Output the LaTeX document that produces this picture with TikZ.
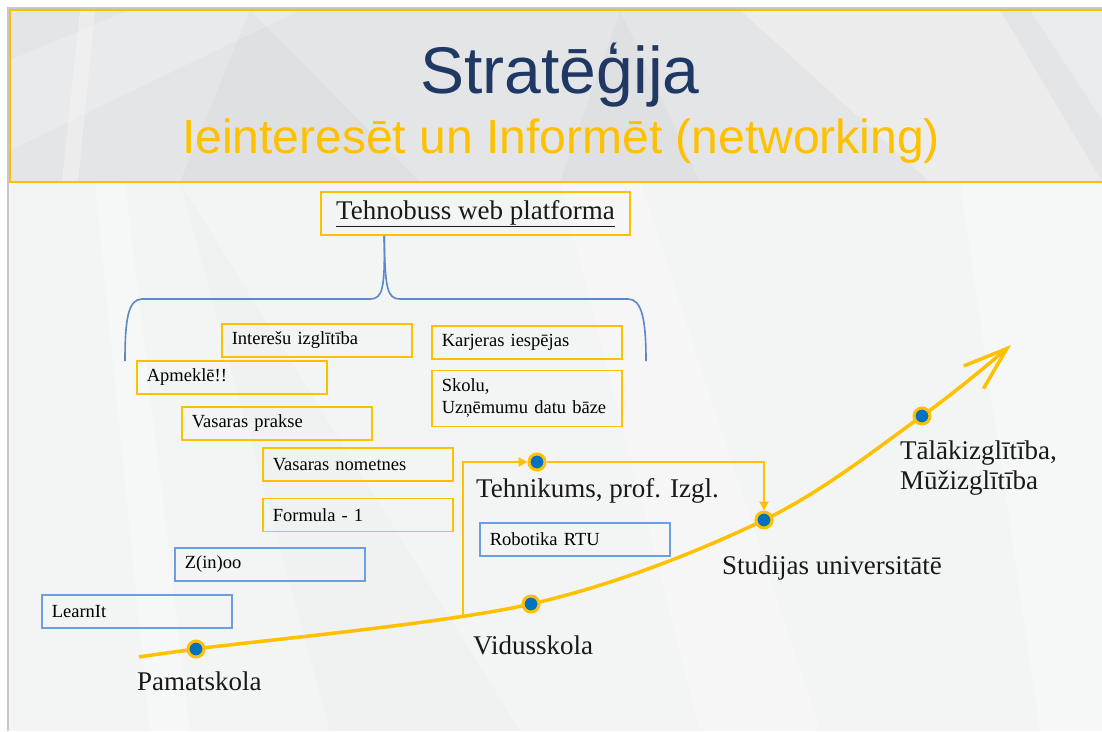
\documentclass[tikz,border=0pt]{standalone}
\usepackage{fontspec}
\setmainfont{Liberation Serif}
\setsansfont{Liberation Sans}
\usetikzlibrary{arrows.meta,positioning}

\definecolor{gold}{HTML}{FFC000}
\definecolor{navy}{HTML}{1F3864}
\definecolor{dotblue}{HTML}{0070C0}
\definecolor{boxblue}{HTML}{6C9FE0}
\definecolor{braceblue}{HTML}{5B88C8}
\definecolor{slide}{HTML}{F3F4F4}
\definecolor{band}{HTML}{E4E5E6}

\tikzset{
  goldbox/.style={draw=gold, line width=1.6pt, rectangle, anchor=north west,
    minimum height=33pt, text width=170pt, inner xsep=10pt, align=left,
    font=\fontsize{18.5}{22}\selectfont},
  bluebox/.style={goldbox, draw=boxblue},
  stopdot/.style={circle, draw=gold, line width=3pt, fill=dotblue,
    minimum size=16pt, inner sep=0pt},
  stage/.style={anchor=base west, inner sep=0pt, align=left, text=black!90,
    font=\fontsize{27}{30}\selectfont},
  track/.style={draw=gold, line width=3.5pt},
  branch/.style={draw=gold, line width=2.2pt},
}

\begin{document}
\begin{tikzpicture}[x=1pt,y=-1pt]
\useasboundingbox (0,0) rectangle (1102,731);

% slide, header band and faint facets
\fill[white] (0,0) rectangle (1102,731);
\fill[slide] (8,8) rectangle (1102,731);
\fill[white, opacity=0.3] (95,182) -- (150,731) -- (190,731) -- (125,182) -- cycle;
\fill[white, opacity=0.25] (560,182) -- (700,731) -- (820,731) -- (640,182) -- cycle;
\fill[black, opacity=0.01] (180,182) -- (330,731) -- (520,731) -- cycle;
\fill[white, opacity=0.3] (960,182) -- (1102,182) -- (1102,731) -- (1040,731) -- cycle;
\draw[black!22, line width=1.2pt] (8,731) -- (8,8) -- (1102,8);
\fill[band] (10,10) rectangle (1102,182);
\fill[white, opacity=0.3] (80,10) -- (95,10) -- (78,182) -- (62,182) -- cycle;
\fill[white, opacity=0.2] (10,60) -- (130,10) -- (300,10) -- (10,150) -- cycle;
\fill[black, opacity=0.02] (250,10) -- (420,182) -- (180,182) -- cycle;
\fill[white, opacity=0.3] (740,10) -- (1000,10) -- (1102,182) -- (930,182) -- cycle;
\fill[white, opacity=0.25] (1030,10) -- (1102,10) -- (1102,120) -- cycle;
\fill[black, opacity=0.02] (620,10) -- (700,182) -- (560,182) -- cycle;
\draw[gold, line width=2pt] (1103,10) -- (10,10) -- (10,182) -- (1103,182);

% titles
\node (title) at (560,93) [anchor=base, inner sep=0pt, text=navy,
  font=\sffamily\fontsize{66}{70}\selectfont] {Stratēģija};
\node (subtitle) at (561,153) [anchor=base, inner sep=0pt, text=gold,
  font=\sffamily\fontsize{48}{52}\selectfont] {Ieinteresēt un Informēt (networking)};

% platform and its brace
\node (Web) at (475.5,213.5) [draw=gold, line width=1.6pt, minimum width=309pt,
  minimum height=43pt, font=\fontsize{27}{30}\selectfont, text=black!90]
  {\underline{Tehnobuss web platforma}};
\coordinate (bracetop) at ([xshift=64pt]Web.south west);
\draw[braceblue, line width=1.6pt] (bracetop) .. controls (385,288) and (383,299) .. (370,299)
  -- (142,299) .. controls (128,299) and (125,320) .. (125,361);
\draw[braceblue, line width=1.6pt] (bracetop) .. controls (385,288) and (387,299) .. (400,299)
  -- (628,299) .. controls (642,299) and (646,320) .. (646,361);

% activities
\node (Interesu) [goldbox] at (221,323) {Interešu izglītība};
\node (Apmekle) [goldbox] at (136,360) {Apmeklē!!};
\node (Prakse) [goldbox] at (181,406) {Vasaras prakse};
\node (Nometnes) [goldbox] at (262,447) {Vasaras nometnes};
\node (Formula) [goldbox, below=16pt of Nometnes] {Formula - 1};
\node (Karjera) [goldbox] at (431,325) {Karjeras iespējas};
\node (Datubaze) [goldbox, below=10pt of Karjera, minimum height=56pt]
  {Skolu,\\Uzņēmumu datu bāze};
\node (Zinoo) [bluebox] at (174,547) {Z(in)oo};
\node (LearnIt) [bluebox] at (41,594) {LearnIt};
\node (Robotika) [bluebox] at (479,522) {Robotika RTU};

% education path
\coordinate (start) at (139,657);
\coordinate (pamatskola) at (196,649);
\coordinate (vidusskola) at (531,604);
\coordinate (universitate) at (764,520);
\coordinate (muzizglitiba) at (922,416);
\coordinate (tip) at (1011,345);
\coordinate (fork) at (463,616);
\draw[track, -{Straight Barb[length=44pt,width=30pt]}]
  plot[smooth, tension=0.55] coordinates {(start) (pamatskola) (vidusskola)
  (universitate) (muzizglitiba) (tip)};

\node (Pamat) [stopdot] at (pamatskola) {};
\node (Vidus) [stopdot] at (vidusskola) {};
\node (Tehn) [stopdot] at (537,462) {};
\node (Studij) [stopdot] at (universitate) {};
\node (Talak) [stopdot] at (muzizglitiba) {};

\draw[branch, -{Triangle[length=9pt,width=9pt]}] (fork) |- (Tehn);
\draw[branch, -{Triangle[length=9pt,width=9pt]}] (Tehn) -| (Studij);

% stage labels
\node (Pamatskola) [stage] at (137,690) {Pamatskola};
\node (Vidusskola) [stage] at (473,654) {Vidusskola};
\node (Tehnikums) [stage] at (476,497) {Tehnikums, prof. Izgl.};
\node (Studijas) [stage] at (722,574) {Studijas universitātē};
\node (Talakizgl) [stage] at (900,489) {Tālākizglītība,\\Mūžizglītība};
\end{tikzpicture}
\end{document}
